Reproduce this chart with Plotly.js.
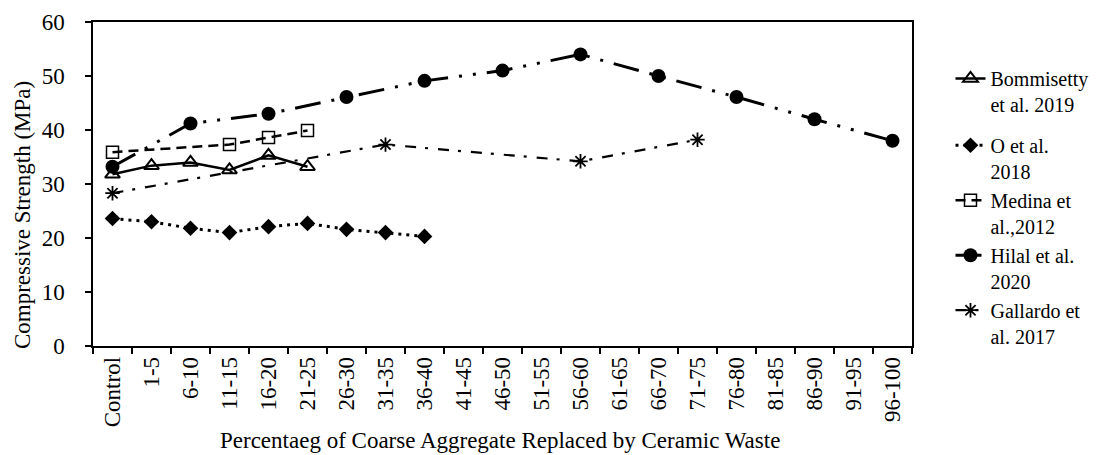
<!DOCTYPE html>
<html>
<head>
<meta charset="utf-8">
<script src="https://cdn.plot.ly/plotly-3.0.1.min.js"></script>
<style>
html,body{margin:0;padding:0;background:#fff;font-family:"Times New Roman","Liberation Serif","DejaVu Serif",serif;}
#chart{width:1105px;height:455px;}
</style>
</head>
<body>
<div id="chart"></div>
<script>
const categories = ["Control","1-5","6-10","11-15","16-20","21-25","26-30","31-35","36-40","41-45","46-50","51-55","56-60","61-65","66-70","71-75","76-80","81-85","86-90","91-95","96-100"];

const bommisettyX = ["Control","1-5","6-10","11-15","16-20","21-25"];
const bommisettyY = [31.8, 33.4, 34.0, 32.6, 35.3, 33.2];

const oX = ["Control","1-5","6-10","11-15","16-20","21-25","26-30","31-35","36-40"];
const oY = [23.6, 23.0, 21.8, 21.0, 22.1, 22.7, 21.6, 21.0, 20.3];

const medinaX = ["Control","11-15","16-20","21-25"];
const medinaY = [35.9, 37.3, 38.6, 39.9];

const hilalX = ["Control","6-10","16-20","26-30","36-40","46-50","56-60","66-70","76-80","86-90","96-100"];
const hilalY = [33.2, 41.2, 43.0, 46.1, 49.1, 51.0, 54.0, 50.0, 46.1, 42.0, 38.0];

const gallardoX = ["Control","31-35","56-60","71-75"];
const gallardoY = [28.3, 37.3, 34.2, 38.2];

const seriesNames = ["Bommisetty<br>et al. 2019","O et al.<br>2018","Medina et<br>al.,2012","Hilal et al.<br>2020","Gallardo et<br>al. 2017"];

const FONT = '"Times New Roman", "Liberation Serif", "DejaVu Serif", serif';

function draw() {
  const traces = [
    {x: bommisettyX, y: bommisettyY, name: seriesNames[0], type: "scatter", mode: "lines+markers", legend: "legend2",
     line: {color: "#000", width: 2.5},
     marker: {symbol: "triangle-up-open", size: 13, color: "#000", line: {width: 2, color: "#000"}}},
    {x: oX, y: oY, name: seriesNames[1], type: "scatter", mode: "lines+markers",
     line: {color: "#000", width: 3, dash: "3px,5px"},
     marker: {symbol: "diamond", size: 12, color: "#000"}},
    {x: medinaX, y: medinaY, name: seriesNames[2], type: "scatter", mode: "lines+markers",
     line: {color: "#000", width: 2.5, dash: "10px,6px"},
     marker: {symbol: "square-open", size: 12, color: "#000", line: {width: 1.5, color: "#000"}}},
    {x: hilalX, y: hilalY, name: seriesNames[3], type: "scatter", mode: "lines+markers",
     line: {color: "#000", width: 3, dash: "26px,11px,3px,11px,3px,11px"},
     marker: {symbol: "circle", size: 14, color: "#000"}},
    {x: gallardoX, y: gallardoY, name: seriesNames[4], type: "scatter", mode: "lines+markers",
     line: {color: "#000", width: 2.2, dash: "11px,9px,3px,10px"},
     marker: {symbol: "asterisk-open", size: 12, color: "#000", line: {width: 1.8, color: "#000"}}}
  ];

  const legendBase = {
    xanchor: "left", yanchor: "top", valign: "top",
    font: {family: FONT, size: 20, color: "#000"},
    tracegroupgap: 0, itemwidth: 30, bgcolor: "rgba(0,0,0,0)"
  };

  const layout = {
    width: 1105, height: 455,
    margin: {l: 93, r: 193, t: 22, b: 109, pad: 0},
    paper_bgcolor: "#fff", plot_bgcolor: "#fff",
    font: {family: FONT, size: 23, color: "#000"},
    showlegend: true,
    legend2: Object.assign({}, legendBase, {x: 1.047, y: 0.886}),
    legend: Object.assign({}, legendBase, {x: 1.047, y: 0.68}),
    xaxis: {
      type: "category", categoryorder: "array", categoryarray: categories,
      range: [-0.5, 20.5], tickangle: -90, tickson: "boundaries",
      ticks: "outside", ticklen: 6, tickwidth: 1.5, tickcolor: "#000",
      showline: true, linecolor: "#000", linewidth: 1.5, mirror: true,
      showgrid: false, zeroline: false, automargin: false,
      tickfont: {family: FONT, size: 23, color: "#000"}
    },
    yaxis: {
      range: [0, 60], dtick: 10, tick0: 0,
      ticks: "outside", ticklen: 6, tickwidth: 1.5, tickcolor: "#000",
      showline: true, linecolor: "#000", linewidth: 1.5, mirror: true,
      showgrid: false, zeroline: false, automargin: false,
      ticklabelstandoff: 16,
      tickfont: {family: FONT, size: 23, color: "#000"}
    },
    annotations: [
      {text: "Compressive Strength (MPa)", xref: "paper", yref: "paper",
       x: -0.0867, y: 0.404, xanchor: "center", yanchor: "middle", textangle: -90, showarrow: false,
       font: {family: FONT, size: 23, color: "#000"}},
      {text: "Percentaeg of Coarse Aggregate Replaced by Ceramic Waste", xref: "paper", yref: "paper",
       x: 0.497, y: -0.293, xanchor: "center", yanchor: "middle", showarrow: false,
       font: {family: FONT, size: 23, color: "#000"}}
    ]
  };

  return Plotly.newPlot("chart", traces, layout, {displayModeBar: false});
}

draw();
setTimeout(draw, 150);
</script>
</body>
</html>
